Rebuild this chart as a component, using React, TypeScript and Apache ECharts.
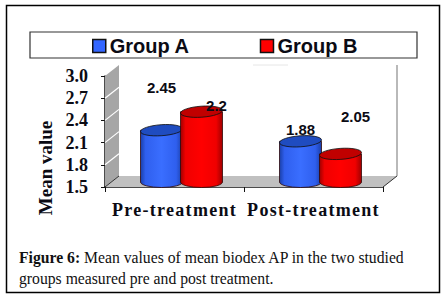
import React, { useEffect, useRef } from "react";
import * as echarts from "echarts";

const categories = ["Pre-treatment", "Post-treatment"];
const yTicks = [1.5, 1.8, 2.1, 2.4, 2.7, 3.0];
// heights of the cylinders as drawn
const groupA = [2.2, 2.05];
const groupB = [2.45, 1.88];
// the data labels printed in the picture
const labelsA = [2.45, 1.88];
const labelsB = [2.2, 2.05];
const labelTextA = ["2.45", "1.88"];
const labelTextB = ["2.2", "2.05"];

const SERIF = "'Liberation Serif', 'Times New Roman', serif";
const SANS = "'Liberation Sans', Arial, sans-serif";
const DX = 14;
const DY = -11;
const TEXT = "#0b0b14";

function cylinder(side: number, labelDx: number, dark: string, mid: string, light: string, top: string, texts: string[]) {
  return (params: any, api: any) => {
    const i = api.value(0);
    const base = api.coord([i, 1.5]);
    const head = api.coord([i, api.value(1)]);
    const lab = api.coord([i, api.value(2)]);
    const rx = 21;
    const ry = 5.5;
    const cx = base[0] + 7 + side;
    const yTop = head[1] - 5;
    const yBot = base[1] - 5;
    const h = yBot - yTop;
    const w = rx * 2;
    const d = `M0 0 L0 ${h} A${rx} ${ry} 0 0 0 ${w} ${h} L${w} 0 Z`;
    return {
      type: "group",
      children: [
        {
          type: "path",
          shape: { pathData: d, x: cx - rx, y: yTop, width: w, height: h + ry, layout: "cover" },
          style: {
            fill: new echarts.graphic.LinearGradient(0, 0, 1, 0, [
              { offset: 0, color: dark },
              { offset: 0.12, color: mid },
              { offset: 0.5, color: light },
              { offset: 0.85, color: mid },
              { offset: 1, color: dark },
            ]),
            stroke: "#300808",
            lineWidth: 0.8,
          },
        },
        {
          type: "ellipse",
          shape: { cx: 0, cy: 0, rx, ry },
          x: cx,
          y: yTop,
          rotation: 0.07,
          style: { fill: top, stroke: "#111", lineWidth: 0.8 },
        },
        {
          type: "text",
          x: base[0] + 7 + side + labelDx,
          y: lab[1] - 29.5,
          z2: 50,
          style: {
            text: texts[i],
            fill: TEXT,
            font: `bold 15px ${SANS}`,
            align: "center",
            verticalAlign: "middle",
          },
        },
      ],
    };
  };
}

function renderFloor(params: any, api: any) {
  const a = api.coord([0, 1.5]);
  const step = api.size([1, 0])[0];
  const x0 = a[0] - step / 2;
  const x1 = x0 + step * categories.length;
  const y = a[1];
  const topY = api.coord([0, 3.0])[1];
  return {
    type: "group",
    children: [
      {
        type: "polygon",
        shape: { points: [[x0, y], [x0 + DX, y + DY], [x1 + DX, y + DY], [x1, y]] },
        style: { fill: "#c0c0c0" },
      },
      {
        type: "polygon",
        shape: { points: [[x0, y], [x0, topY], [x0 + DX, topY + DY], [x0 + DX, y + DY]] },
        style: { fill: "#a6a6a6" },
      },
      {
        type: "line",
        shape: { x1: x1 + DX, y1: topY + DY, x2: x1 + DX, y2: y + DY },
        style: { stroke: "#8a8a8a", lineWidth: 1.2 },
      },
      {
        type: "line",
        shape: { x1, y1: y, x2: x1 + DX, y2: y + DY },
        style: { stroke: "#333", lineWidth: 1 },
      },
      {
        type: "line",
        shape: { x1: x0, y1: y, x2: x0 + DX, y2: y + DY },
        style: { stroke: "#333", lineWidth: 1 },
      },
      {
        type: "line",
        shape: { x1: x0 + step + 9, y1: topY + DY, x2: x0 + step + 44, y2: topY + DY },
        style: { stroke: "#e6e6e6", lineWidth: 1 },
      },
    ],
  };
}

function renderWallLine(params: any, api: any) {
  const step = api.size([1, 0])[0];
  const p = api.coord([0, api.value(0)]);
  const x0 = p[0] - step / 2;
  return {
    type: "line",
    shape: { x1: x0, y1: p[1], x2: x0 + DX, y2: p[1] + DY },
    style: { stroke: "#ffffff", lineWidth: 1.2 },
  };
}

export default function App() {
  const ref = useRef<HTMLDivElement>(null);
  useEffect(() => {
    const chart = echarts.init(ref.current!, undefined, { renderer: "svg" });
    chart.setOption({
      animation: false,
      backgroundColor: "#ffffff",
      grid: { left: 105, right: 62, top: 76, bottom: 109 },
      legend: {
        left: 92,
        top: 36,
        padding: 0,
        itemWidth: 13,
        itemHeight: 13,
        itemGap: 70,
        icon: "rect",
        selectedMode: false,
        textStyle: { fontFamily: SANS, fontWeight: "bold", fontSize: 20, color: TEXT, padding: [0, 0, 0, -1] },
        data: [
          { name: "Group A", itemStyle: { color: "#3366ff", borderColor: "#111", borderWidth: 1.5 } },
          { name: "Group B", itemStyle: { color: "#ff0000", borderColor: "#111", borderWidth: 1.5 } },
        ],
      },
      xAxis: {
        type: "category",
        data: categories,
        axisLine: { lineStyle: { color: "#111", width: 1.5 } },
        axisTick: { show: true, length: 5, lineStyle: { color: "#111", width: 1 } },
        axisLabel: {
          interval: 0,
          margin: 14,
          fontFamily: SERIF,
          fontWeight: "bold",
          fontSize: 18,
          color: TEXT,
        },
      },
      yAxis: {
        type: "value",
        min: 1.5,
        max: 3.0,
        interval: 0.3,
        splitLine: { show: false },
        axisLine: { show: true, lineStyle: { color: "#111", width: 1.5 } },
        axisTick: { show: true, length: 4, lineStyle: { color: "#111", width: 1 } },
        axisLabel: {
          margin: 17,
          formatter: (v: number) => v.toFixed(1),
          fontFamily: SERIF,
          fontWeight: "bold",
          fontSize: 18,
          color: TEXT,
        },
      },
      graphic: [
        {
          type: "rect",
          silent: true,
          shape: { x: 6.5, y: 5.5, width: 433, height: 287 },
          style: { fill: "none", stroke: "#000", lineWidth: 1.5 },
        },
        {
          type: "rect",
          silent: true,
          shape: { x: 30, y: 32, width: 387, height: 26 },
          style: { fill: "none", stroke: "#333", lineWidth: 1.2 },
        },
        {
          type: "text",
          x: 45,
          y: 168,
          rotation: Math.PI / 2,
          style: {
            text: "Mean value",
            font: `bold 19px ${SERIF}`,
            fill: TEXT,
            align: "center",
            verticalAlign: "middle",
          },
        },
        {
          type: "text",
          x: 19,
          y: 257,
          style: {
            text: "{b|Figure 6:} Mean values of mean biodex AP in the two studied",
            rich: {
              b: { font: `bold 15.7px ${SERIF}`, fill: "#111" },
            },
            font: `15.7px ${SERIF}`,
            fill: "#111",
            verticalAlign: "middle",
          },
        },
        {
          type: "text",
          x: 19,
          y: 278,
          style: {
            text: "groups measured pre and post treatment.",
            font: `15.7px ${SERIF}`,
            fill: "#111",
            verticalAlign: "middle",
          },
        },
      ],
      series: [
        {
          type: "custom",
          name: "floor",
          silent: true,
          z: 1,
          data: [[0, 1.5]],
          encode: { x: 0, y: 1 },
          renderItem: renderFloor,
        },
        {
          type: "custom",
          name: "wall",
          silent: true,
          z: 2,
          data: yTicks.slice(1, 5).map((v) => [v]),
          encode: { y: 0 },
          renderItem: renderWallLine,
        },
        {
          type: "custom",
          name: "Group A",
          z: 3,
          itemStyle: { color: "#3366ff" },
          data: categories.map((_, i) => [i, groupA[i], labelsA[i]]),
          encode: { x: 0, y: 1 },
          renderItem: cylinder(-20, 0, "#1a3fa8", "#2f5fee", "#3a6eff", "#1f4cc0", labelTextA),
        },
        {
          type: "custom",
          name: "Group B",
          z: 4,
          itemStyle: { color: "#ff0000" },
          data: categories.map((_, i) => [i, groupB[i], labelsB[i]]),
          encode: { x: 0, y: 1 },
          renderItem: cylinder(20, 15, "#a00000", "#f00000", "#ff0000", "#c00000", labelTextB),
        },
      ],
    });
    ref.current!.querySelectorAll("text").forEach((t) => {
      if (categories.includes((t.textContent || "").trim())) {
        (t as SVGTextElement).style.letterSpacing = "1.3px";
      }
    });
    return () => chart.dispose();
  }, []);
  return <div ref={ref} style={{ position: "absolute", left: 0, top: 0, width: 445, height: 296 }} />;
}
